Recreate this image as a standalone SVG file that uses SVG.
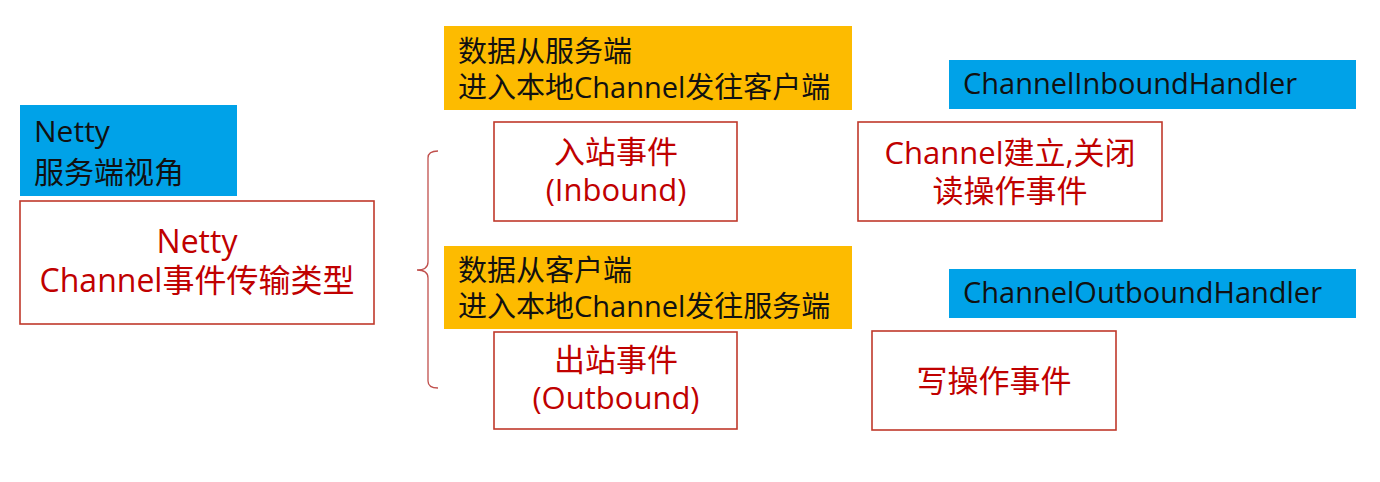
<svg xmlns="http://www.w3.org/2000/svg" width="1380" height="482" viewBox="0 0 1380 482">
<style>
text{font-family:"Open Sans","Noto Sans CJK SC",sans-serif;}
.blue{fill:#00A2E8;}
.orange{fill:#FDBB00;}
.rbox{fill:#fff;stroke:#C0392B;stroke-width:1.6;}
.dark{fill:#111;}
.red{fill:#C00000;}
.mid{text-anchor:middle;}
.brace{fill:none;stroke:#C0504D;stroke-width:1.3;}
</style>
<rect width="1380" height="482" fill="#fff"/>
<g id="netty-view">
<rect class="blue" x="20" y="105" width="217" height="91"/>
<text class="dark" x="34" y="142" font-size="30">Netty</text>
<text class="dark" x="34" y="183" font-size="30">服务端视角</text>
</g>
<g id="event-types">
<rect class="rbox" x="20" y="201" width="354" height="123"/>
<text class="red mid" x="197" y="253" font-size="32">Netty</text>
<text class="red mid" x="197" y="292" font-size="32">Channel事件传输类型</text>
</g>
<g id="connectors">
<path class="brace" d="M438,151 Q428,151 428,158 L428,262 Q428,270 417,270 Q428,270 428,278 L428,381 Q428,388 438,388"/>
</g>
<g id="inbound-desc">
<rect class="orange" x="444" y="26" width="408" height="84"/>
<text class="dark" x="458" y="62" font-size="29">数据从服务端</text>
<text class="dark" x="458" y="98" font-size="29">进入本地Channel发往客户端</text>
</g>
<g id="inbound">
<rect class="rbox" x="494" y="122" width="243" height="99"/>
<text class="red mid" x="616" y="163" font-size="31">入站事件</text>
<text class="red mid" x="616" y="201" font-size="31">(Inbound)</text>
</g>
<g id="outbound-desc">
<rect class="orange" x="444" y="246" width="408" height="83"/>
<text class="dark" x="458" y="281" font-size="29">数据从客户端</text>
<text class="dark" x="458" y="317" font-size="29">进入本地Channel发往服务端</text>
</g>
<g id="outbound">
<rect class="rbox" x="494" y="332" width="243" height="97"/>
<text class="red mid" x="616" y="371" font-size="31">出站事件</text>
<text class="red mid" x="616" y="409" font-size="31">(Outbound)</text>
</g>
<g id="inbound-handler">
<rect class="blue" x="949" y="60" width="407" height="49"/>
<text class="dark" x="963" y="94" font-size="29">ChannelInboundHandler</text>
</g>
<g id="inbound-events">
<rect class="rbox" x="858" y="122" width="304" height="99"/>
<text class="red mid" x="1010" y="164" font-size="31">Channel建立,关闭</text>
<text class="red mid" x="1010" y="202" font-size="31">读操作事件</text>
</g>
<g id="outbound-handler">
<rect class="blue" x="949" y="269" width="407" height="49"/>
<text class="dark" x="963" y="303" font-size="29">ChannelOutboundHandler</text>
</g>
<g id="outbound-events">
<rect class="rbox" x="872" y="331" width="244" height="99"/>
<text class="red mid" x="994" y="392" font-size="31">写操作事件</text>
</g>
</svg>
